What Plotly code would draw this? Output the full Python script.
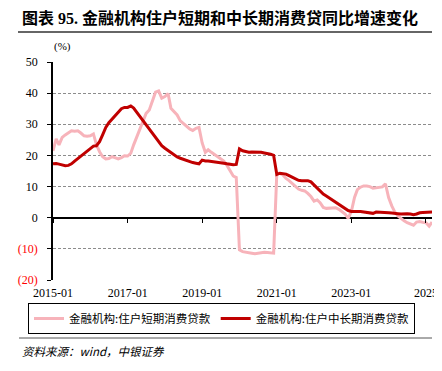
import pandas as pd
import plotly.graph_objects as go

months = pd.date_range("2015-01-01", periods=123, freq="MS")

short_term = [
    21.5, 25.3, 23.4, 25.8, 26.6, 27.3, 27.9, 27.8, 27.9, 27.2, 26.3, 26.2,
    26.3, 26.9, 23.5, 21.2, 19.6, 18.9, 19.0, 19.6, 19.2, 18.9, 19.3, 19.9,
    19.8, 20.7, 23.4, 26.0, 28.7, 30.9, 33.5, 34.6, 37.8, 40.3, 40.7, 38.4,
    38.9, 39.9, 35.1, 34.0, 33.0, 31.1, 30.3, 29.3, 28.5, 28.0, 28.7, 29.0,
    24.0, 21.0, 21.8, 21.0, 20.3, 19.7, 19.1, 18.2, 16.8, 15.0, 13.4, 12.9,
    -10.3, -10.9, -11.0, -11.1, -11.4, -11.6, -11.4, -11.2, -11.1, -11.2, -11.3, -11.4,
    14.3, 14.2, 13.7, 12.6, 11.9, 11.0, 10.3, 9.2, 8.8, 8.6, 7.8, 6.8,
    5.3, 5.7, 4.8, 3.3, 3.0, 3.1, 3.2, 3.2, 2.7, 1.9, 1.2, -0.2,
    2.0, 6.5, 9.0, 9.8, 10.2, 10.2, 10.0, 9.5, 9.6, 9.6, 9.9, 10.9,
    6.5, 3.8, 1.9, 0.6, -0.3, -1.0, -1.6, -2.1, -2.4, -1.4, -1.2, -1.5,
    -1.6, -2.7, -1.4,
]

long_term = [
    17.3, 17.4, 17.2, 17.0, 16.7, 16.8, 17.3, 18.2, 19.0, 19.8, 20.5, 21.3,
    22.0, 23.0, 23.1, 24.4, 26.6, 29.0, 30.5, 31.6, 32.7, 33.9, 35.0, 35.4,
    35.4, 35.9, 35.2, 33.8, 32.5, 31.1, 29.8, 28.5, 27.1, 25.8, 24.4, 23.1,
    22.3, 21.5, 20.8, 20.1, 19.5, 19.1, 18.7, 18.3, 18.0, 17.7, 17.5, 17.3,
    18.5, 18.2, 18.2, 18.1, 18.0, 17.9, 17.7, 17.5, 17.3, 17.1, 17.0, 17.1,
    22.1, 21.5, 21.2, 21.0, 21.1, 21.1, 21.0, 21.0, 20.8, 20.7, 20.4, 20.0,
    13.9, 14.3, 14.1, 14.0, 13.5, 13.0, 12.6, 12.0, 11.9, 11.9, 11.9, 11.5,
    10.5, 9.4, 8.5, 7.6, 7.0, 6.3, 5.7, 5.1, 4.3, 3.5, 2.9, 2.3,
    2.0, 1.9, 2.0, 2.0, 1.8, 1.6, 1.5, 1.4, 1.8, 1.8, 1.8, 1.7,
    1.6, 1.5, 1.3, 1.3, 1.2, 1.3, 1.3, 1.2, 1.0, 1.2, 1.6, 1.7,
    1.7, 1.8, 1.8,
]

series_names = ["金融机构:住户短期消费贷款", "金融机构:住户中长期消费贷款"]
x_tick_vals = ["2015-01-01", "2017-01-01", "2019-01-01", "2021-01-01", "2023-01-01", "2025-01-01"]
x_tick_text = ["2015-01", "2017-01", "2019-01", "2021-01", "2023-01", "2025"]
y_tick_vals = [-20, -10, 0, 10, 20, 30, 40, 50]
y_tick_text = ['<span style="color:#FF0000">(20)</span>', '<span style="color:#FF0000">(10)</span>',
               "0", "10", "20", "30", "40", "50"]

title_text = "<b>图表 95. 金融机构住户短期和中长期消费贷同比增速变化</b>"
source_text = "<i>资料来源：wind，中银证券</i>"

SERIF = "Liberation Serif, Noto Sans CJK SC"
CJK = "Noto Sans CJK SC"

# The page body has an 8px default margin: the figure is 8px smaller and sits at (8, 8).
# Margins are zero, so paper coordinates span the whole figure; positions are given
# in window pixels and converted.
OFF = 8
W, H = 442 - OFF, 371 - OFF


def fx(xw):
    return (xw - OFF) / W


def fy(yw):
    return (H + OFF - yw) / H


PL, PR, PT, PB = 53, 432, 62, 280      # plot area in window pixels
dom_x = [fx(PL), fx(PR)]
dom_y = [fy(PB), fy(PT)]
y_min, y_max = -20, 50
zero_pos = dom_y[0] + (0 - y_min) / (y_max - y_min) * (dom_y[1] - dom_y[0])

fig = go.Figure()
fig.add_trace(go.Scatter(x=months, y=short_term, mode="lines", name=series_names[0],
                         line=dict(color="#F7B3BA", width=3), xaxis="x", yaxis="y"))
fig.add_trace(go.Scatter(x=months, y=long_term, mode="lines", name=series_names[1],
                         line=dict(color="#C00000", width=3), xaxis="x2", yaxis="y"))

fig.update_layout(
    width=W, height=H,
    margin=dict(l=0, r=0, t=0, b=0, pad=0),
    paper_bgcolor="white", plot_bgcolor="white",
    showlegend=True,
    font=dict(family=SERIF, size=12, color="black"),
    xaxis=dict(
        domain=dom_x, automargin=False,
        range=["2015-01-01", "2025-03-01"], tickvals=x_tick_vals, ticktext=x_tick_text,
        showgrid=False, zeroline=False, showline=True, linecolor="rgba(0,0,0,0)",
        ticks="", tickfont=dict(family=SERIF, size=12), ticklabelstandoff=2,
    ),
    xaxis2=dict(
        matches="x", overlaying="x", anchor="free", position=zero_pos, automargin=False,
        tickvals=x_tick_vals, showticklabels=False, showgrid=False, zeroline=False,
        showline=False, ticks="outside", ticklen=4, tickcolor="black", tickwidth=1,
    ),
    yaxis=dict(
        domain=dom_y, automargin=False,
        range=[y_min, y_max], tickvals=y_tick_vals, ticktext=y_tick_text,
        showgrid=True, gridcolor="#8C8C8C", griddash="3px,2px", gridwidth=1,
        zeroline=True, zerolinecolor="black", zerolinewidth=1.5,
        showline=True, linecolor="black", linewidth=1.5,
        ticks="outside", ticklen=4, tickcolor="black",
        tickfont=dict(family=SERIF, size=12), ticklabelstandoff=7,
    ),
    legend=dict(
        orientation="h", x=fx(28), xanchor="left", y=fy(303), yanchor="top",
        bordercolor="black", borderwidth=1, bgcolor="white",
        font=dict(family=CJK, size=11.5), itemwidth=30, tracegroupgap=0,
    ),
)

fig.add_annotation(text=title_text, xref="paper", yref="paper", x=fx(20), y=fy(18),
                   showarrow=False, xanchor="left", yanchor="middle",
                   font=dict(family=SERIF, size=16, color="black"))
fig.add_annotation(text="(%)", xref="paper", yref="paper", x=fx(62), y=fy(47),
                   showarrow=False, xanchor="center", yanchor="middle",
                   font=dict(family=SERIF, size=11, color="black"))
fig.add_annotation(text=source_text, xref="paper", yref="paper", x=fx(20), y=fy(351),
                   showarrow=False, xanchor="left", yanchor="middle",
                   font=dict(family=CJK, size=11.5, color="black"))

# horizontal rules under the title and above the source note
rules = [(18, 432, 32, "#333333", 1.5), (19, 432, 338, "#555555", 1.0)]
for x_start, x_end, y_rule, colr, wid in rules:
    fig.add_shape(type="line", xref="paper", yref="paper", x0=fx(x_start), x1=fx(x_end),
                  y0=fy(y_rule), y1=fy(y_rule), line=dict(color=colr, width=wid), layer="above")

fig.write_html("out.html", config={"displayModeBar": False})
